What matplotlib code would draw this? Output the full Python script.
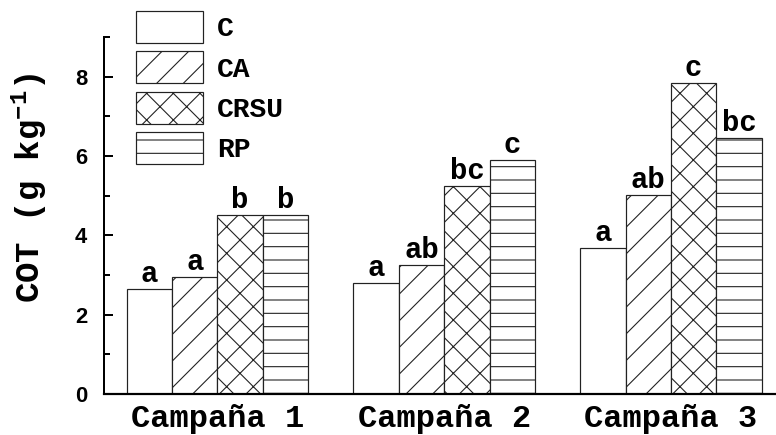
import numpy as np
import matplotlib
matplotlib.use("Agg")
import matplotlib.pyplot as plt

campaigns = ['Campaña 1', 'Campaña 2', 'Campaña 3']
treatments = ['C', 'CA', 'CRSU', 'RP']
val_C = [2.65, 2.79, 3.67]
val_CA = [2.95, 3.25, 5.01]
val_CRSU = [4.51, 5.24, 7.83]
val_RP = [4.52, 5.89, 6.46]
let_C = ['a', 'a', 'a']
let_CA = ['a', 'ab', 'ab']
let_CRSU = ['b', 'bc', 'c']
let_RP = ['b', 'c', 'bc']
yticks = [0, 2, 4, 6, 8]
yminor = [1, 3, 5, 7, 9]

values = [val_C, val_CA, val_CRSU, val_RP]
letters = [let_C, let_CA, let_CRSU, let_RP]
hatches = ['', '/', 'x', '-']

DPI = 80


def px(p):
    """pixels -> points"""
    return p * 72.0 / DPI


plt.rcParams['hatch.linewidth'] = px(1.1)
plt.rcParams['hatch.color'] = '#222222'
plt.rcParams['mathtext.fontset'] = 'custom'
plt.rcParams['mathtext.rm'] = 'Liberation Mono:bold'
plt.rcParams['mathtext.it'] = 'Liberation Mono:bold'
plt.rcParams['mathtext.bf'] = 'Liberation Mono:bold'

fig = plt.figure(figsize=(776 / DPI, 435 / DPI), dpi=DPI)
ax = fig.add_axes([104 / 776, 1 - 394 / 435, 1 - 104 / 776, 357 / 435])

mono = dict(family='Liberation Mono', weight='bold')
x = np.arange(len(campaigns))
w = 0.2
handles = []
for i, (vals, labs, h) in enumerate(zip(values, letters, hatches)):
    pos = x + (i - 1.5) * w
    bars = ax.bar(pos, vals, width=w, facecolor='white', edgecolor='#222222',
                  linewidth=px(1.2), hatch=h, label=treatments[i])
    handles.append(bars)
    for xp, v, t in zip(pos, vals, labs):
        ax.annotate(t, (xp, v), xytext=(0, px(7)), textcoords='offset points',
                    ha='center', va='baseline', fontsize=px(29), **mono)

ax.set_xlim(-0.5, 2.463)
ax.set_ylim(0, 9)
ax.spines['top'].set_visible(False)
ax.spines['right'].set_visible(False)
ax.spines['left'].set_linewidth(px(2))
ax.spines['bottom'].set_linewidth(px(2.2))
ax.set_xticks(x)
ax.set_xticklabels(campaigns, fontsize=px(32), **mono)
ax.tick_params(axis='x', length=0, pad=px(10))
ax.set_yticks(yticks)
ax.set_yticks(yminor, minor=True)
ax.tick_params(axis='y', which='major', direction='in', length=px(9), width=px(2), pad=px(17))
ax.tick_params(axis='y', which='minor', direction='in', length=px(6), width=px(2))
for lab in ax.get_yticklabels():
    lab.set_fontfamily('Liberation Sans')
    lab.set_fontweight('bold')
    lab.set_fontsize(px(22))
ylab = ax.set_ylabel(r'COT (g kg$^{-1}$)', fontsize=px(34), **mono)
ylab.set_va('center')
ax.yaxis.set_label_coords((30 - 104) / 672, (394 - 188) / 357)

fs_leg = px(28)
fig.legend(handles=handles, labels=treatments, loc='upper left',
           bbox_to_anchor=(136 / 776, 1 - 11 / 435), frameon=False,
           borderpad=0, borderaxespad=0,
           handlelength=67 / 28, handleheight=1.38, labelspacing=0.3,
           handletextpad=0.5, prop=dict(family='Liberation Mono', weight='bold', size=fs_leg))

fig.savefig('out.png', dpi=DPI)
